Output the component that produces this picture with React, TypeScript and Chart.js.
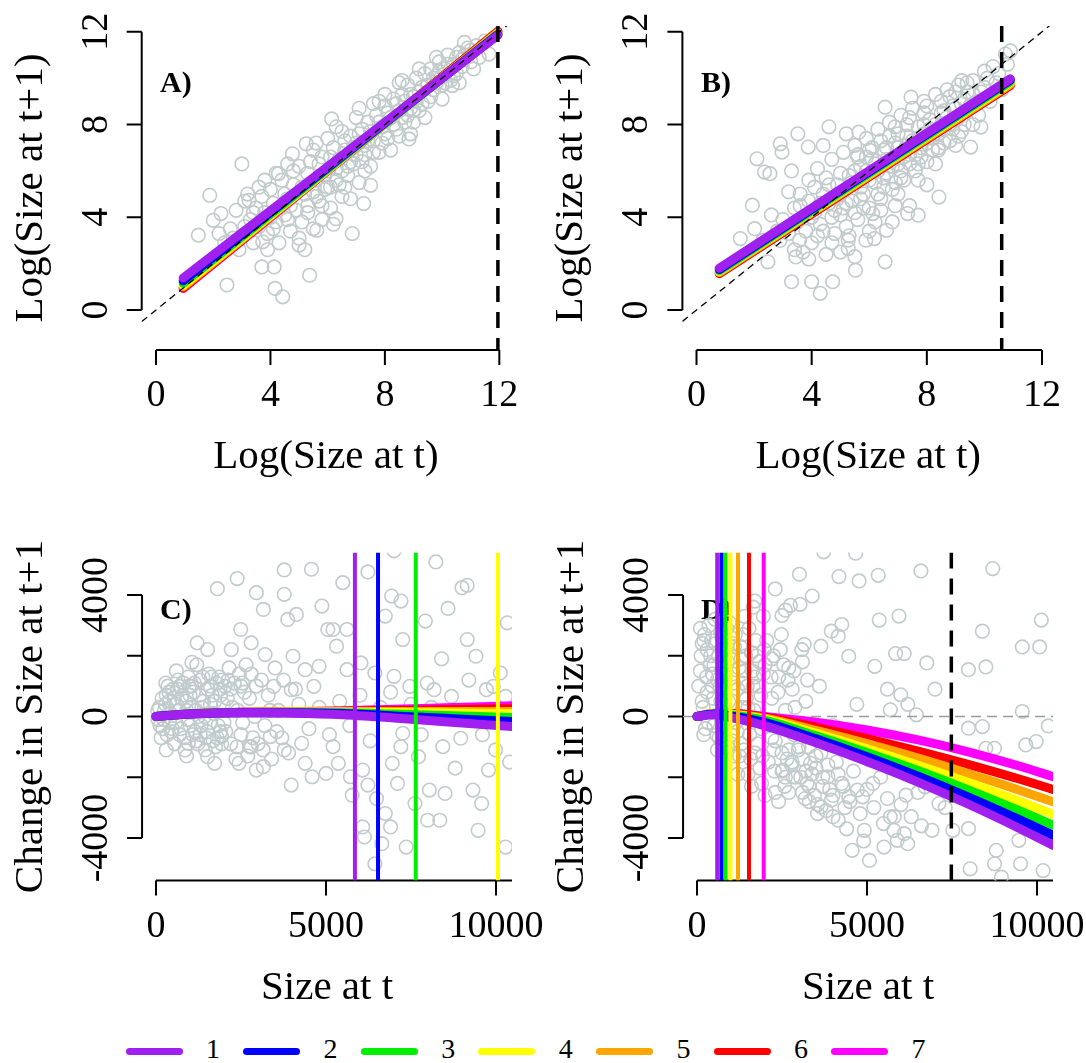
import React, { useEffect, useRef } from "react";
import { Chart, registerables } from "chart.js";

Chart.register(...registerables);

const SERIF = '"Liberation Serif", "Times New Roman", "DejaVu Serif", serif';

// ---------- shared ----------
const groupLabels = ["1", "2", "3", "4", "5", "6", "7"];
const groupColors = ["#A020F0", "#0000FF", "#00EE00", "#FFFF00", "#FFA500", "#FF0000", "#FF00FF"];
const pointColor = "#c2cbcb";

const logTicks = [0, 4, 8, 12];
const logTickLabels = ["0", "4", "8", "12"];
const sizeTicks = [0, 5000, 10000];
const sizeTickLabels = ["0", "5000", "10000"];
const changeTicks = [-4000, -2000, 0, 2000, 4000];
const changeTickLabels = ["-4000", "", "0", "", "4000"];

// ---------- panel A ----------
const fitXA = [0.95, 11.95];
const fitYA = [
  [1.38, 11.85], [1.26, 11.88], [1.16, 11.9], [1.07, 11.93], [1.0, 11.97], [0.95, 12.02], [0.93, 12.0],
];
const maxSizeA = 11.95;
const scatterA = [
  [3.0, 6.3], [1.88, 4.95], [1.48, 3.23], [2.0, 3.87], [2.48, 1.08], [3.7, 1.86], [4.13, 1.86], [4.16, 0.93],
  [4.43, 0.57], [5.37, 1.5], [5.0, 2.8], [3.73, 2.94], [6.86, 3.3], [6.14, 8.24], [5.25, 7.17], [4.77, 6.74],
  [7.5, 5.38], [7.26, 4.59], [8.84, 7.38], [10.78, 11.54], [11.64, 11.04], [10.36, 9.68], [5.62, 3.44], [6.29, 3.94],
  [2.27, 4.16], [3.25, 4.73], [4.28, 5.88],
  [2.6, 3.5], [2.8, 4.3], [3.0, 3.2], [3.1, 4.7], [3.3, 3.9], [3.4, 2.9], [3.5, 4.4], [3.2, 5.0], [2.9, 2.6],
  [3.6, 3.6], [3.7, 4.9], [3.8, 4.2], [3.9, 3.3], [4.0, 5.2], [4.1, 4.6], [4.2, 3.8], [4.3, 2.9], [4.4, 5.6],
  [4.5, 4.1], [3.9, 2.6], [4.2, 5.9], [4.6, 4.8], [4.7, 3.4], [4.8, 5.4], [4.9, 4.3], [5.0, 6.2], [5.1, 3.8],
  [5.2, 5.0], [5.3, 4.5], [5.4, 6.4], [5.5, 3.5], [4.8, 6.0], [5.2, 2.6], [5.0, 3.1], [5.6, 5.6], [5.7, 4.7],
  [5.8, 6.6], [5.9, 5.2], [6.0, 6.0], [6.1, 4.4], [6.2, 7.0], [6.3, 5.6], [6.4, 6.5], [6.5, 4.9], [5.8, 3.9],
  [6.2, 3.7], [6.0, 7.4], [6.6, 6.9], [6.7, 5.8], [6.8, 7.5], [6.9, 6.3], [7.0, 7.2], [7.1, 5.5], [7.2, 7.8],
  [7.3, 6.7], [7.4, 8.1], [7.5, 6.2], [6.8, 4.8], [7.0, 8.3], [7.6, 7.3], [7.7, 8.4], [7.8, 6.8], [7.9, 7.9],
  [8.0, 8.8], [8.1, 7.4], [8.2, 8.3], [8.3, 9.1], [8.4, 7.8], [8.5, 8.6], [7.8, 9.0], [8.2, 6.9], [8.6, 9.3],
  [8.7, 8.1], [8.8, 9.7], [8.9, 8.7], [9.0, 9.2], [9.1, 10.0], [9.2, 8.6], [9.3, 9.6], [9.4, 10.2], [9.5, 9.0],
  [8.9, 7.6], [9.6, 10.4], [9.7, 9.5], [9.8, 10.1], [9.9, 10.7], [10.0, 9.7], [10.1, 10.4], [10.2, 11.0],
  [10.3, 9.9], [10.4, 10.6], [10.5, 10.2], [10.6, 11.1], [10.7, 10.5], [10.9, 11.3], [11.0, 10.7], [11.2, 11.4],
  [11.3, 10.9], [11.5, 11.6], [6.5, 7.7], [7.6, 8.9], [8.5, 9.8], [9.0, 8.1], [6.0, 5.3], [5.5, 6.9], [7.3, 6.0],
  [5.1, 5.3], [5.3, 5.9], [5.5, 5.1], [5.7, 6.3], [5.9, 5.8], [6.1, 6.6], [6.3, 6.1], [6.5, 6.0], [6.6, 7.3],
  [6.8, 6.4], [7.0, 6.7], [7.1, 7.6], [7.3, 7.1], [7.5, 7.7], [7.6, 6.8], [7.8, 8.1], [8.0, 7.6], [8.1, 8.5],
  [8.3, 8.0], [8.4, 8.9], [8.6, 8.3], [8.7, 9.0], [8.9, 9.3], [9.0, 8.6], [9.2, 9.4], [9.3, 8.9], [9.5, 9.7],
  [9.6, 9.2], [9.8, 9.8], [9.9, 10.3], [10.1, 9.8], [10.2, 10.6], [10.4, 10.1], [10.5, 10.9], [10.7, 10.8],
  [10.8, 11.0], [11.0, 11.2], [11.1, 10.4], [8.8, 8.4], [9.1, 9.0], [9.7, 10.0], [7.4, 7.3], [7.2, 6.4],
  [6.9, 7.0], [6.4, 5.4], [6.7, 6.2], [5.6, 4.9], [5.3, 4.2], [4.7, 4.5], [4.5, 5.0], [4.3, 4.4], [4.0, 4.0],
  [3.7, 3.9], [3.4, 4.2], [3.1, 3.6], [2.7, 3.1], [2.4, 2.9], [2.2, 3.3], [3.6, 5.3], [4.1, 3.5], [4.6, 3.9],
  [5.8, 4.5], [6.1, 5.3], [6.6, 5.3], [7.9, 7.2], [8.5, 7.5], [9.4, 8.3], [10.0, 9.1], [10.6, 9.8], [8.0, 9.3],
  [8.6, 9.9], [9.2, 10.4], [9.8, 10.9], [7.1, 8.7], [6.3, 7.9], [5.6, 7.2], [4.6, 6.3], [3.8, 5.6],
];

// ---------- panel B ----------
const fitXB = [0.79, 10.9];
const fitYB = [
  [1.8, 9.97], [1.75, 9.92], [1.7, 9.86], [1.66, 9.8], [1.62, 9.74], [1.57, 9.68], [1.6, 9.7],
];
const maxSizeB = 10.6;
const scatterB = [
  [2.1, 6.52], [2.36, 5.95], [2.55, 5.88], [3.52, 7.6], [2.91, 7.17], [2.97, 6.81], [3.88, 7.03], [4.6, 7.9],
  [1.94, 4.52], [1.52, 3.08], [2.02, 3.51], [2.48, 2.08], [3.3, 1.22], [4.0, 1.22], [4.3, 0.72], [4.73, 1.22],
  [5.52, 1.72], [5.27, 2.65], [5.27, 3.01], [5.88, 3.01], [6.18, 3.08], [6.55, 2.08], [6.6, 3.44], [3.58, 3.01],
  [3.45, 2.29], [5.64, 7.67], [6.55, 8.75], [9.52, 7.03], [9.88, 7.89], [8.42, 4.87], [10.73, 11.04],
  [10.9, 11.18], [9.21, 9.89], [7.45, 9.18], [7.33, 4.16], [7.7, 4.09], [6.12, 4.16],
  [3.0, 3.9], [3.2, 5.1], [3.4, 2.6], [3.6, 4.5], [3.8, 3.4], [3.9, 5.6], [4.0, 2.9], [4.1, 4.2], [4.2, 6.1],
  [4.3, 3.7], [4.4, 5.0], [4.5, 2.4], [4.6, 4.6], [4.7, 6.5], [4.8, 3.3], [4.9, 5.4], [5.0, 4.1], [5.1, 6.8],
  [5.2, 3.6], [5.3, 5.8], [5.4, 4.7], [5.5, 7.1], [5.6, 3.9], [5.7, 6.2], [5.8, 5.0], [5.9, 7.4], [6.0, 4.4],
  [6.1, 6.5], [6.2, 5.5], [6.3, 7.8], [6.4, 4.8], [6.5, 6.9], [6.6, 5.9], [6.7, 8.1], [6.8, 5.2], [6.9, 7.2],
  [7.0, 6.3], [7.1, 8.4], [7.2, 5.6], [7.3, 7.5], [7.4, 6.7], [7.5, 8.7], [7.6, 6.0], [7.7, 7.9], [7.8, 7.0],
  [7.9, 9.0], [8.0, 6.4], [8.1, 8.2], [8.2, 7.4], [8.3, 9.3], [8.4, 6.9], [8.5, 8.5], [8.6, 7.8], [8.7, 9.5],
  [8.8, 7.3], [8.9, 8.8], [9.0, 8.2], [9.1, 9.7], [9.2, 7.7], [9.3, 9.1], [9.4, 8.6], [9.6, 9.9], [9.7, 8.9],
  [9.9, 9.4], [10.0, 10.3], [10.2, 9.0], [10.4, 9.8], [5.0, 2.5], [5.5, 2.3], [6.0, 3.4], [6.8, 3.8], [7.4, 4.5],
  [4.4, 7.1], [5.2, 7.6], [3.3, 6.0], [5.6, 6.6], [6.3, 6.0], [7.0, 7.6], [7.9, 8.0], [8.6, 8.6], [4.9, 4.8],
  [4.0, 4.0], [4.3, 4.6], [4.6, 5.4], [4.8, 4.3], [5.0, 5.0], [5.2, 4.6], [5.4, 5.5], [5.5, 4.2], [5.7, 5.3],
  [5.9, 6.0], [6.0, 5.6], [6.2, 6.3], [6.3, 5.0], [6.5, 5.7], [6.6, 6.5], [6.8, 6.2], [6.9, 5.5], [7.0, 7.0],
  [7.1, 6.0], [7.2, 6.6], [7.3, 7.1], [7.4, 6.3], [7.5, 7.3], [7.6, 6.7], [7.7, 7.4], [7.8, 6.6], [7.9, 7.6],
  [8.0, 7.2], [8.1, 7.8], [8.2, 6.9], [8.3, 8.0], [8.4, 7.6], [8.5, 8.0], [8.6, 7.2], [8.7, 8.3], [8.8, 8.0],
  [8.9, 7.8], [9.0, 8.7], [9.1, 8.3], [9.2, 8.9], [9.3, 8.0], [9.4, 9.4], [9.5, 8.8], [9.6, 9.3], [9.8, 9.0],
  [10.0, 9.6], [10.1, 10.0], [10.3, 10.5], [10.5, 10.2], [10.6, 9.5], [10.8, 10.6], [6.1, 7.0], [6.7, 7.5],
  [7.3, 8.0], [7.9, 8.5], [8.5, 9.0], [9.0, 9.4], [5.6, 6.7], [5.0, 5.9], [4.5, 5.7], [3.9, 4.7], [3.5, 3.8],
  [3.2, 3.3], [2.8, 3.4], [2.6, 4.1], [2.3, 3.0], [5.8, 4.4], [6.4, 4.3], [7.0, 5.0], [7.7, 5.6], [8.3, 6.3],
  [9.0, 7.1], [9.6, 8.0], [3.9, 2.2], [4.7, 2.9], [5.3, 3.2], [6.2, 3.8], [4.2, 3.2], [3.7, 2.5], [6.9, 4.5],
  [8.0, 5.4], [5.5, 6.0], [6.0, 6.9], [6.4, 7.3], [6.9, 7.9], [7.4, 8.3], [8.0, 8.8], [4.7, 4.0], [5.1, 4.4],
  [5.7, 4.8], [6.5, 5.3], [7.1, 5.7], [7.7, 6.3], [8.4, 7.0], [9.1, 7.5], [9.8, 8.4], [3.6, 5.0], [4.1, 5.3],
  [3.4, 4.4], [2.9, 3.0], [4.4, 3.4], [5.9, 6.6], [6.6, 7.0], [8.8, 9.2], [9.4, 9.8],
];

// ---------- panel C ----------
const fitXC = [0, 1000, 2500, 4000, 5500, 7000, 8500, 10470];
const fitYC = [
  [0, 80, 120, 110, 60, -50, -170, -330],
  [0, 85, 125, 125, 100, 20, -60, -165],
  [0, 90, 130, 135, 125, 80, 30, -35],
  [0, 90, 135, 145, 145, 135, 115, 90],
  [0, 90, 135, 150, 160, 165, 165, 165],
  [0, 90, 138, 155, 175, 195, 220, 255],
  [0, 92, 140, 160, 190, 235, 290, 355],
];
const maxSizesC = [5850, 6530, 7640, 10055];
const scatterC = [
  [3772, 4827], [4571, 4849], [2388, 4540], [1804, 4210], [2952, 4077], [3772, 4022], [7000, 5455],
  [8230, 5091], [6232, 4760], [9000, 4243], [9153, 4320], [8589, 3559], [10332, 3086], [5494, 4408],
  [6929, 3967], [7206, 3802], [6744, 3306], [7923, 3141], [7257, 2535], [9153, 2535], [9409, 1984],
  [1210, 2424], [1055, 1785], [1517, 2204], [2214, 2204], [2491, 2865], [2798, 2424], [3208, 2039],
  [3157, 3526], [3874, 3196], [4130, 3361], [5053, 2865], [4879, 3637], [5207, 2865], [5617, 2865],
  [5310, 2314], [4797, 1653], [4387, 1543], [4028, 1984], [5617, 1543], [6027, 1763], [6437, 1433],
  [7000, 1322], [7462, 992], [7975, 1102], [8179, 882], [8692, 661], [9717, 882], [9922, 992], [10127, 1433],
  [10281, 661], [287, 1102], [697, 992], [2030, 992], [2542, 1102], [3464, 992], [3977, 882], [4643, 992],
  [953, -882], [1517, -1322], [1722, -1543], [2439, -1543], [2952, -1763], [3157, -1653], [3977, -2259],
  [4387, -1543], [4592, -1984], [5002, -1873], [5361, -1543], [5720, -1984], [5771, -2590], [6078, -1763],
  [6232, -2259], [6488, -2700], [6642, -4188], [6744, -3196], [6898, -3637], [6949, -1543], [7103, -2204],
  [7359, -4298], [7616, -2865], [7718, -1322], [7988, -3416], [8040, -2424], [8347, -3416], [8501, -2535],
  [8962, -716], [9321, -2424], [9474, -3747], [9576, -2865], [9781, -1763], [9986, -1102], [10281, -4298],
  [6130, -3967], [6437, -4849], [6078, -3637], [7257, -551], [8436, -992], [3772, -1102], [4284, -882],
  [5207, -992], [1927, -661], [2747, -992], [3362, -661],
  [100, 300], [200, -400], [300, 700], [400, -200], [500, 900], [600, 400], [700, -600], [800, 1100],
  [900, 200], [1000, -300], [1100, 800], [1200, -800], [1300, 1200], [1400, 500], [1500, -500], [1600, 1000],
  [1700, 100], [1800, -700], [1900, 700], [2000, -200], [150, -700], [350, 1000], [550, -900], [750, 600],
  [950, 1300], [1150, -500], [1350, 300], [1550, 1400], [1750, -1000], [1950, 1200], [250, 200], [450, -500],
  [650, 1200], [850, -1100], [1050, 1000], [1250, 0], [1450, -1100], [1650, 700], [1850, 1300], [2100, 600],
  [2200, -900], [2300, 1100], [2400, 200], [2500, -600], [2600, 800], [2700, -1300], [2800, 1400], [2900, 0],
  [3000, -900], [3100, 1200], [3200, -300], [3300, 700], [3400, -1400], [3500, 1600], [3600, 200],
  [3700, -700], [2150, 1600], [2350, -1400], [2650, 1700], [1200, 1700], [900, -1300], [600, 1500],
  [300, -1100], [4200, 400], [4500, -400], [4800, 300], [5100, -600], [5400, 500], [5700, -300], [6000, 700],
  [6300, -800], [6600, 300], [6900, 800], [7200, -1000], [7500, 400], [7800, -600], [8100, 300], [8400, 1900],
  [8800, -1700], [9200, 1200], [9600, -600], [10000, 200], [10400, -1500],
  [50, 200], [120, -300], [180, 600], [220, -100], [280, 400], [330, -600], [380, 800], [420, 100],
  [480, -400], [530, 600], [580, -200], [630, 900], [680, 200], [730, -400], [780, 700], [830, -700],
  [880, 500], [930, -100], [980, 1000], [1030, 300], [1080, -600], [1130, 1100], [1180, 200], [1230, -900],
  [1280, 700], [1330, -300], [1380, 1300], [1430, 0], [1480, -700], [1530, 900], [1580, -200], [1630, 1300],
  [1680, -800], [1730, 500], [1780, 1100], [1830, -300], [1880, 900], [1930, -900], [1980, 400], [2050, -500],
  [2120, 1200], [2250, 300], [2380, -1000], [2450, 1400], [2550, -200], [2750, 600], [2850, -700], [2950, 1000],
  [3150, -1100], [3350, 200], [3550, -500], [3750, 1200], [3900, -1200], [4100, 900], [60, -100], [400, 500],
  [700, 1000], [1000, 700], [1300, -600], [1600, 400], [1900, -500], [2200, 900], [2500, 1000], [2800, -1000],
];

// ---------- panel D ----------
const fitXD = [0, 500, 1000, 2000, 3500, 5000, 6500, 8000, 9500, 10470];
const fitYD = [
  [0, 60, -40, -309, -866, -1482, -2160, -2898, -3695, -4243],
  [0, 80, 20, -198, -737, -1327, -1968, -2660, -3404, -3912],
  [0, 90, 50, -132, -636, -1186, -1781, -2423, -3111, -3580],
  [0, 95, 70, -88, -556, -1061, -1603, -2182, -2799, -3218],
  [0, 100, 85, -55, -457, -896, -1372, -1885, -2435, -2810],
  [0, 100, 95, -20, -355, -727, -1137, -1583, -2067, -2400],
  [0, 105, 110, 0, -187, -444, -772, -1171, -1640, -1980],
];
const minSizesD = [594, 718, 838, 982, 1206, 1529, 1962];
const maxSizeD = 7480;
const scatterD = [
  [3727, 5422], [4666, 5378], [3012, 4684], [4176, 4606], [4768, 4463], [5330, 4650], [6585, 4794],
  [8699, 4871], [2501, 3328], [2747, 3659], [3032, 3692], [3390, 3967], [5360, 3174], [5942, 3306],
  [10128, 3174], [8393, 2810], [9567, 2292], [10077, 2292], [7984, 1543], [8495, 1631], [6759, 1763],
  [5840, 2072], [6095, 2072], [5228, 1653], [3155, 2369], [3645, 2314], [4155, 2645], [4258, 3030],
  [3951, 2810], [4462, 1984], [5993, 716], [6453, 55], [5687, 220], [8393, -331], [9567, 165], [10332, -309],
  [8495, -1047], [8750, -1047], [9669, -937], [9976, -827], [7984, -386], [7116, -2094], [6912, -3747],
  [7984, -3692], [8801, -4408], [9465, -4077], [8750, -4849], [9516, -4849], [10179, -5071], [8035, -5014],
  [8954, -5290], [4564, -4408], [5074, -4739], [5687, -3306], [5789, -3747], [5891, -4077], [6095, -3857],
  [6197, -4188], [5483, -3527], [4921, -3747], [4155, -3416], [3645, -2976], [3543, -3196], [3951, -2755],
  [4462, -2645], [4870, -2645], [5176, -2204], [4717, -2424], [4258, -2204], [3849, -1984], [3339, -1543],
  [2828, -1984], [2522, -1763], [3237, -2204], [5074, -1433], [6402, -1653], [6708, -2314], [6146, -2590],
  [7116, -2865], [7524, -3747],
  [100, 1500], [200, 2500], [300, 800], [400, 2000], [500, -300], [600, 1200], [700, 2800], [800, 400],
  [900, 1800], [1000, -600], [1100, 2300], [1200, 900], [1300, -900], [1400, 1500], [1500, 300], [1600, 2100],
  [1700, -1200], [1800, 1000], [1900, -400], [2000, 1700], [2100, -1500], [2200, 600], [2300, -800],
  [2400, 1300], [2500, -1800], [2600, 200], [2700, -1100], [2800, 900], [2900, -2000], [3000, -300],
  [3100, -1400], [3200, 500], [3300, -2300], [3400, -700], [3500, -1700], [150, 500], [350, 3000], [550, 2400],
  [750, 1600], [950, 3100], [1150, -200], [1350, 2700], [1550, -600], [1750, 2000], [1950, 3300], [250, -400],
  [450, 1000], [650, -700], [850, 2200], [1050, 1400], [1250, -1300], [1450, 600], [1650, 3600], [1850, -1700],
  [2050, 2500], [2250, -1100], [2450, 2200], [2650, -1400], [2850, -600], [3050, -2000], [3250, 1200],
  [3450, -2600], [3650, -1200], [3850, -1600], [1700, 3800], [2300, 4200], [2600, 3500], [1400, 3300],
  [900, -1000], [1200, -1900], [1600, -2300], [2000, -2600], [2400, -2800], [100, 2900], [300, 2200],
  [500, 1700], [700, 500], [1000, 2600], [1300, 1900], [1700, 1300], [2200, 1900], [2700, 1600], [3100, 1800],
  [3600, 1000], [4000, -300], [4300, -900], [4700, 400], [5300, -800], [5600, 900], [6200, 400], [7000, 900],
  [50, 1000], [120, 2000], [180, 300], [220, 2700], [280, 1300], [330, -200], [380, 1700], [430, 2500],
  [480, 600], [530, 3200], [580, -600], [630, 2000], [680, 1000], [730, 2600], [780, -300], [830, 1400],
  [880, 2900], [930, 500], [980, 1900], [1030, -800], [1080, 1100], [1130, 2700], [1180, -500], [1230, 1600],
  [1280, 2300], [1330, 300], [1380, -1100], [1430, 2000], [1480, 1000], [1530, 2900], [1580, -1400],
  [1630, 1500], [1680, 200], [1730, 2500], [1780, -900], [1830, 1800], [1880, 700], [1930, -1300], [1980, 2200],
  [2080, -300], [2180, 1300], [2280, -1800], [2380, 800], [2480, 2700], [2580, -2300], [2680, 1200],
  [2780, -1600], [2880, 300], [2980, -1100], [3080, 2200], [3180, -2700], [3280, -1000], [3380, -1900],
  [3550, -2900], [3700, -2300], [3800, -3100], [4000, -2600], [4150, -1900], [4350, -3000], [150, 2400],
  [450, 1400], [750, 2200], [1050, 2400], [1350, 1100], [1650, 1000], [1950, 1400], [2250, 2000], [2550, 1700],
  [2850, 1500], [200, -600], [600, -1100], [1100, -1300], [1500, -1900], [1900, -2200], [2300, -2500],
  [2700, -2500], [2200, -700], [2500, -1200], [2800, -1500], [3000, -1000], [3200, -1800], [3500, -1300],
  [3700, -2000], [3900, -2400], [4100, -1500], [4300, -2300], [4500, -2800], [4600, -1800], [4800, -3200],
  [5000, -2400], [5200, -3000], [5400, -2000], [5600, -2700], [5800, -3300], [6000, -2900], [6300, -3300],
  [6500, -2500], [4400, -3700], [4900, -4100], [3300, -2800], [2600, -2000], [3100, -2500], [4000, -3300],
  [5500, -4300], [6600, -3600], [7300, -3000],
];

// ---------- layout (pixel frames for the four panels) ----------
type Panel = {
  left: number; top: number; width: number; height: number;
  pad: { left: number; right: number; top: number; bottom: number };
  xMin: number; xMax: number; yMin: number; yMax: number;
  xTicks: number[]; xTickLabels: string[]; yTicks: number[]; yTickLabels: string[];
  xLineEnd: number | null;
  xTitle: string; yTitle: string; tag: string; tagX: number; tagY: number;
  scatter: number[][]; fitX: number[]; fitY: number[][];
  vColored: number[]; diag: boolean; vDashed: number | null; hZero: boolean;
};

const panels: Panel[] = [
  {
    left: 0, top: 0, width: 543, height: 500,
    pad: { left: 141.7, right: 32.8, top: 26, bottom: 150.1 },
    xMin: -0.5, xMax: 12.38, yMin: -1.72, yMax: 12.25,
    xTicks: logTicks, xTickLabels: logTickLabels, yTicks: logTicks, yTickLabels: logTickLabels, xLineEnd: null,
    xTitle: "Log(Size at t)", yTitle: "Log(Size at t+1)", tag: "A)", tagX: 0.14, tagY: 9.4,
    scatter: scatterA, fitX: fitXA, fitY: fitYA, vColored: [], diag: true, vDashed: maxSizeA, hZero: false,
  },
  {
    left: 543, top: 0, width: 543, height: 500,
    pad: { left: 139.4, right: 31.9, top: 26, bottom: 150.1 },
    xMin: -0.49, xMax: 12.42, yMin: -1.72, yMax: 12.25,
    xTicks: logTicks, xTickLabels: logTickLabels, yTicks: logTicks, yTickLabels: logTickLabels, xLineEnd: null,
    xTitle: "Log(Size at t)", yTitle: "Log(Size at t+1)", tag: "B)", tagX: 0.16, tagY: 9.4,
    scatter: scatterB, fitX: fitXB, fitY: fitYB, vColored: [], diag: true, vDashed: maxSizeB, hZero: false,
  },
  {
    left: 0, top: 500, width: 543, height: 530,
    pad: { left: 142.06, right: 31, top: 52.5, bottom: 149.5 },
    xMin: -410, xMax: 10470, yMin: -5400, yMax: 5400,
    xTicks: sizeTicks, xTickLabels: sizeTickLabels, yTicks: changeTicks, yTickLabels: changeTickLabels, xLineEnd: 10470,
    xTitle: "Size at t", yTitle: "Change in Size at t+1", tag: "C)", tagX: 118, tagY: 3200,
    scatter: scatterC, fitX: fitXC, fitY: fitYC, vColored: maxSizesC, diag: false, vDashed: null, hZero: false,
  },
  {
    left: 543, top: 500, width: 543, height: 530,
    pad: { left: 140.06, right: 33, top: 52.5, bottom: 149.5 },
    xMin: -410, xMax: 10470, yMin: -5400, yMax: 5400,
    xTicks: sizeTicks, xTickLabels: sizeTickLabels, yTicks: changeTicks, yTickLabels: changeTickLabels, xLineEnd: 10470,
    xTitle: "Size at t", yTitle: "Change in Size at t+1", tag: "D)", tagX: 118, tagY: 3200,
    scatter: scatterD, fitX: fitXD, fitY: fitYD, vColored: minSizesD, diag: false, vDashed: maxSizeD, hZero: true,
  },
];

function rAxesPlugin(p: Panel) {
  return {
    id: "rAxes",
    beforeDatasetsDraw(chart: any) {
      const ctx = chart.ctx;
      const xs = chart.scales.x;
      const ys = chart.scales.y;
      const a = chart.chartArea;
      const ax = a.left;
      const ay = a.bottom;
      ctx.save();
      ctx.strokeStyle = "#000";
      ctx.fillStyle = "#000";
      ctx.lineWidth = 2;
      ctx.setLineDash([]);
      ctx.beginPath();
      ctx.moveTo(ax, ys.getPixelForValue(p.yTicks[0]));
      ctx.lineTo(ax, ys.getPixelForValue(p.yTicks[p.yTicks.length - 1]));
      for (const v of p.yTicks) {
        const py = ys.getPixelForValue(v);
        ctx.moveTo(ax, py);
        ctx.lineTo(ax - 15, py);
      }
      const x0 = xs.getPixelForValue(p.xTicks[0]);
      const x1 = xs.getPixelForValue(p.xLineEnd == null ? p.xTicks[p.xTicks.length - 1] : p.xLineEnd);
      ctx.moveTo(x0, ay);
      ctx.lineTo(x1, ay);
      for (const v of p.xTicks) {
        const px = xs.getPixelForValue(v);
        ctx.moveTo(px, ay);
        ctx.lineTo(px, ay + 15);
      }
      ctx.stroke();

      ctx.font = `38px ${SERIF}`;
      ctx.textAlign = "center";
      ctx.textBaseline = "alphabetic";
      p.xTicks.forEach((v, i) => {
        const s = p.xTickLabels[i];
        if (s) ctx.fillText(s, xs.getPixelForValue(v), ay + 56);
      });
      p.yTicks.forEach((v, i) => {
        const s = p.yTickLabels[i];
        if (!s) return;
        ctx.save();
        ctx.translate(ax - 35, ys.getPixelForValue(v));
        ctx.rotate(-Math.PI / 2);
        ctx.fillText(s, 0, 0);
        ctx.restore();
      });
      ctx.font = `41px ${SERIF}`;
      ctx.fillText(p.xTitle, (a.left + a.right) / 2, ay + 118);
      ctx.save();
      ctx.translate(ax - 100, (a.top + a.bottom) / 2);
      ctx.rotate(-Math.PI / 2);
      ctx.fillText(p.yTitle, 0, 0);
      ctx.restore();

      ctx.font = `bold 30px ${SERIF}`;
      ctx.textAlign = "left";
      ctx.fillText(p.tag, xs.getPixelForValue(p.tagX), ys.getPixelForValue(p.tagY));
      ctx.restore();
    },
  };
}

function buildDatasets(p: Panel) {
  const ds: any[] = [];
  ds.push({
    label: "points",
    data: p.scatter.map(([x, y]) => ({ x, y })),
    pointRadius: 6.8,
    pointStyle: "circle",
    pointBackgroundColor: "rgba(0,0,0,0)",
    pointBorderColor: pointColor,
    pointBorderWidth: 1.6,
    showLine: false,
    clip: 0,
    order: 100,
  });
  p.fitY.forEach((ys, g) => {
    ds.push({
      label: "fit " + groupLabels[g],
      data: p.fitX.map((x, i) => ({ x, y: ys[i] })),
      showLine: true,
      borderColor: groupColors[g],
      borderWidth: 9,
      borderCapStyle: "round",
      borderJoinStyle: "round",
      cubicInterpolationMode: "monotone",
      pointRadius: 0,
      clip: 0,
      order: 50 + g,
    });
  });
  p.vColored.forEach((v, g) => {
    ds.push({
      label: "size " + groupLabels[g],
      data: [{ x: v, y: p.yMin }, { x: v, y: p.yMax }],
      showLine: true,
      borderColor: groupColors[g],
      borderWidth: 4,
      pointRadius: 0,
      clip: 0,
      order: 20 + g,
    });
  });
  if (p.hZero) {
    ds.push({
      label: "zero",
      data: [{ x: p.xMin, y: 0 }, { x: p.xMax, y: 0 }],
      showLine: true,
      borderColor: "#9a9a9a",
      borderWidth: 1.6,
      borderDash: [10, 6],
      pointRadius: 0,
      clip: 0,
      order: 60,
    });
  }
  if (p.diag) {
    ds.push({
      label: "1:1",
      data: [{ x: p.xMin, y: p.xMin }, { x: p.xMax + 1, y: p.xMax + 1 }],
      showLine: true,
      borderColor: "#000",
      borderWidth: 1.3,
      borderDash: [7, 5],
      pointRadius: 0,
      clip: 0,
      order: 2,
    });
  }
  if (p.vDashed != null) {
    ds.push({
      label: "max",
      data: [{ x: p.vDashed, y: p.yMax }, { x: p.vDashed, y: p.yMin }],
      showLine: true,
      borderColor: "#000",
      borderWidth: 3.5,
      borderDash: [16, 10],
      pointRadius: 0,
      clip: 0,
      order: 1,
    });
  }
  return ds;
}

function PanelChart({ p }: { p: Panel }) {
  const ref = useRef<HTMLCanvasElement | null>(null);
  useEffect(() => {
    if (!ref.current) return;
    const chart = new Chart(ref.current, {
      type: "scatter",
      data: { datasets: buildDatasets(p) },
      options: {
        animation: false,
        responsive: false,
        devicePixelRatio: 1,
        events: [],
        layout: { padding: p.pad },
        scales: {
          x: { type: "linear", min: p.xMin, max: p.xMax, display: false },
          y: { type: "linear", min: p.yMin, max: p.yMax, display: false },
        },
        plugins: { legend: { display: false }, tooltip: { enabled: false } },
      } as any,
      plugins: [rAxesPlugin(p)],
    });
    return () => chart.destroy();
  }, [p]);
  return (
    <canvas
      ref={ref}
      width={p.width}
      height={p.height}
      style={{ position: "absolute", left: p.left, top: p.top, width: p.width, height: p.height }}
    />
  );
}

function Legend() {
  return (
    <>
      {groupLabels.map((g, i) => (
        <React.Fragment key={g}>
          <div
            style={{
              position: "absolute",
              left: 125.5 + 117.6 * i,
              top: 1047.5,
              width: 57,
              height: 7,
              borderRadius: 3.5,
              background: groupColors[i],
            }}
          />
          <div
            style={{
              position: "absolute",
              left: 213 + 117.6 * i - 20,
              top: 1033,
              width: 40,
              height: 28,
              lineHeight: "28px",
              textAlign: "center",
              font: `28px ${SERIF}`,
              color: "#000",
            }}
          >
            {g}
          </div>
        </React.Fragment>
      ))}
    </>
  );
}

export default function App() {
  return (
    <div
      style={{
        position: "absolute",
        left: 0,
        top: 0,
        width: 1086,
        height: 1063,
        overflow: "hidden",
        background: "#fff",
      }}
    >
      {panels.map((p) => (
        <PanelChart key={p.tag} p={p} />
      ))}
      <Legend />
    </div>
  );
}
